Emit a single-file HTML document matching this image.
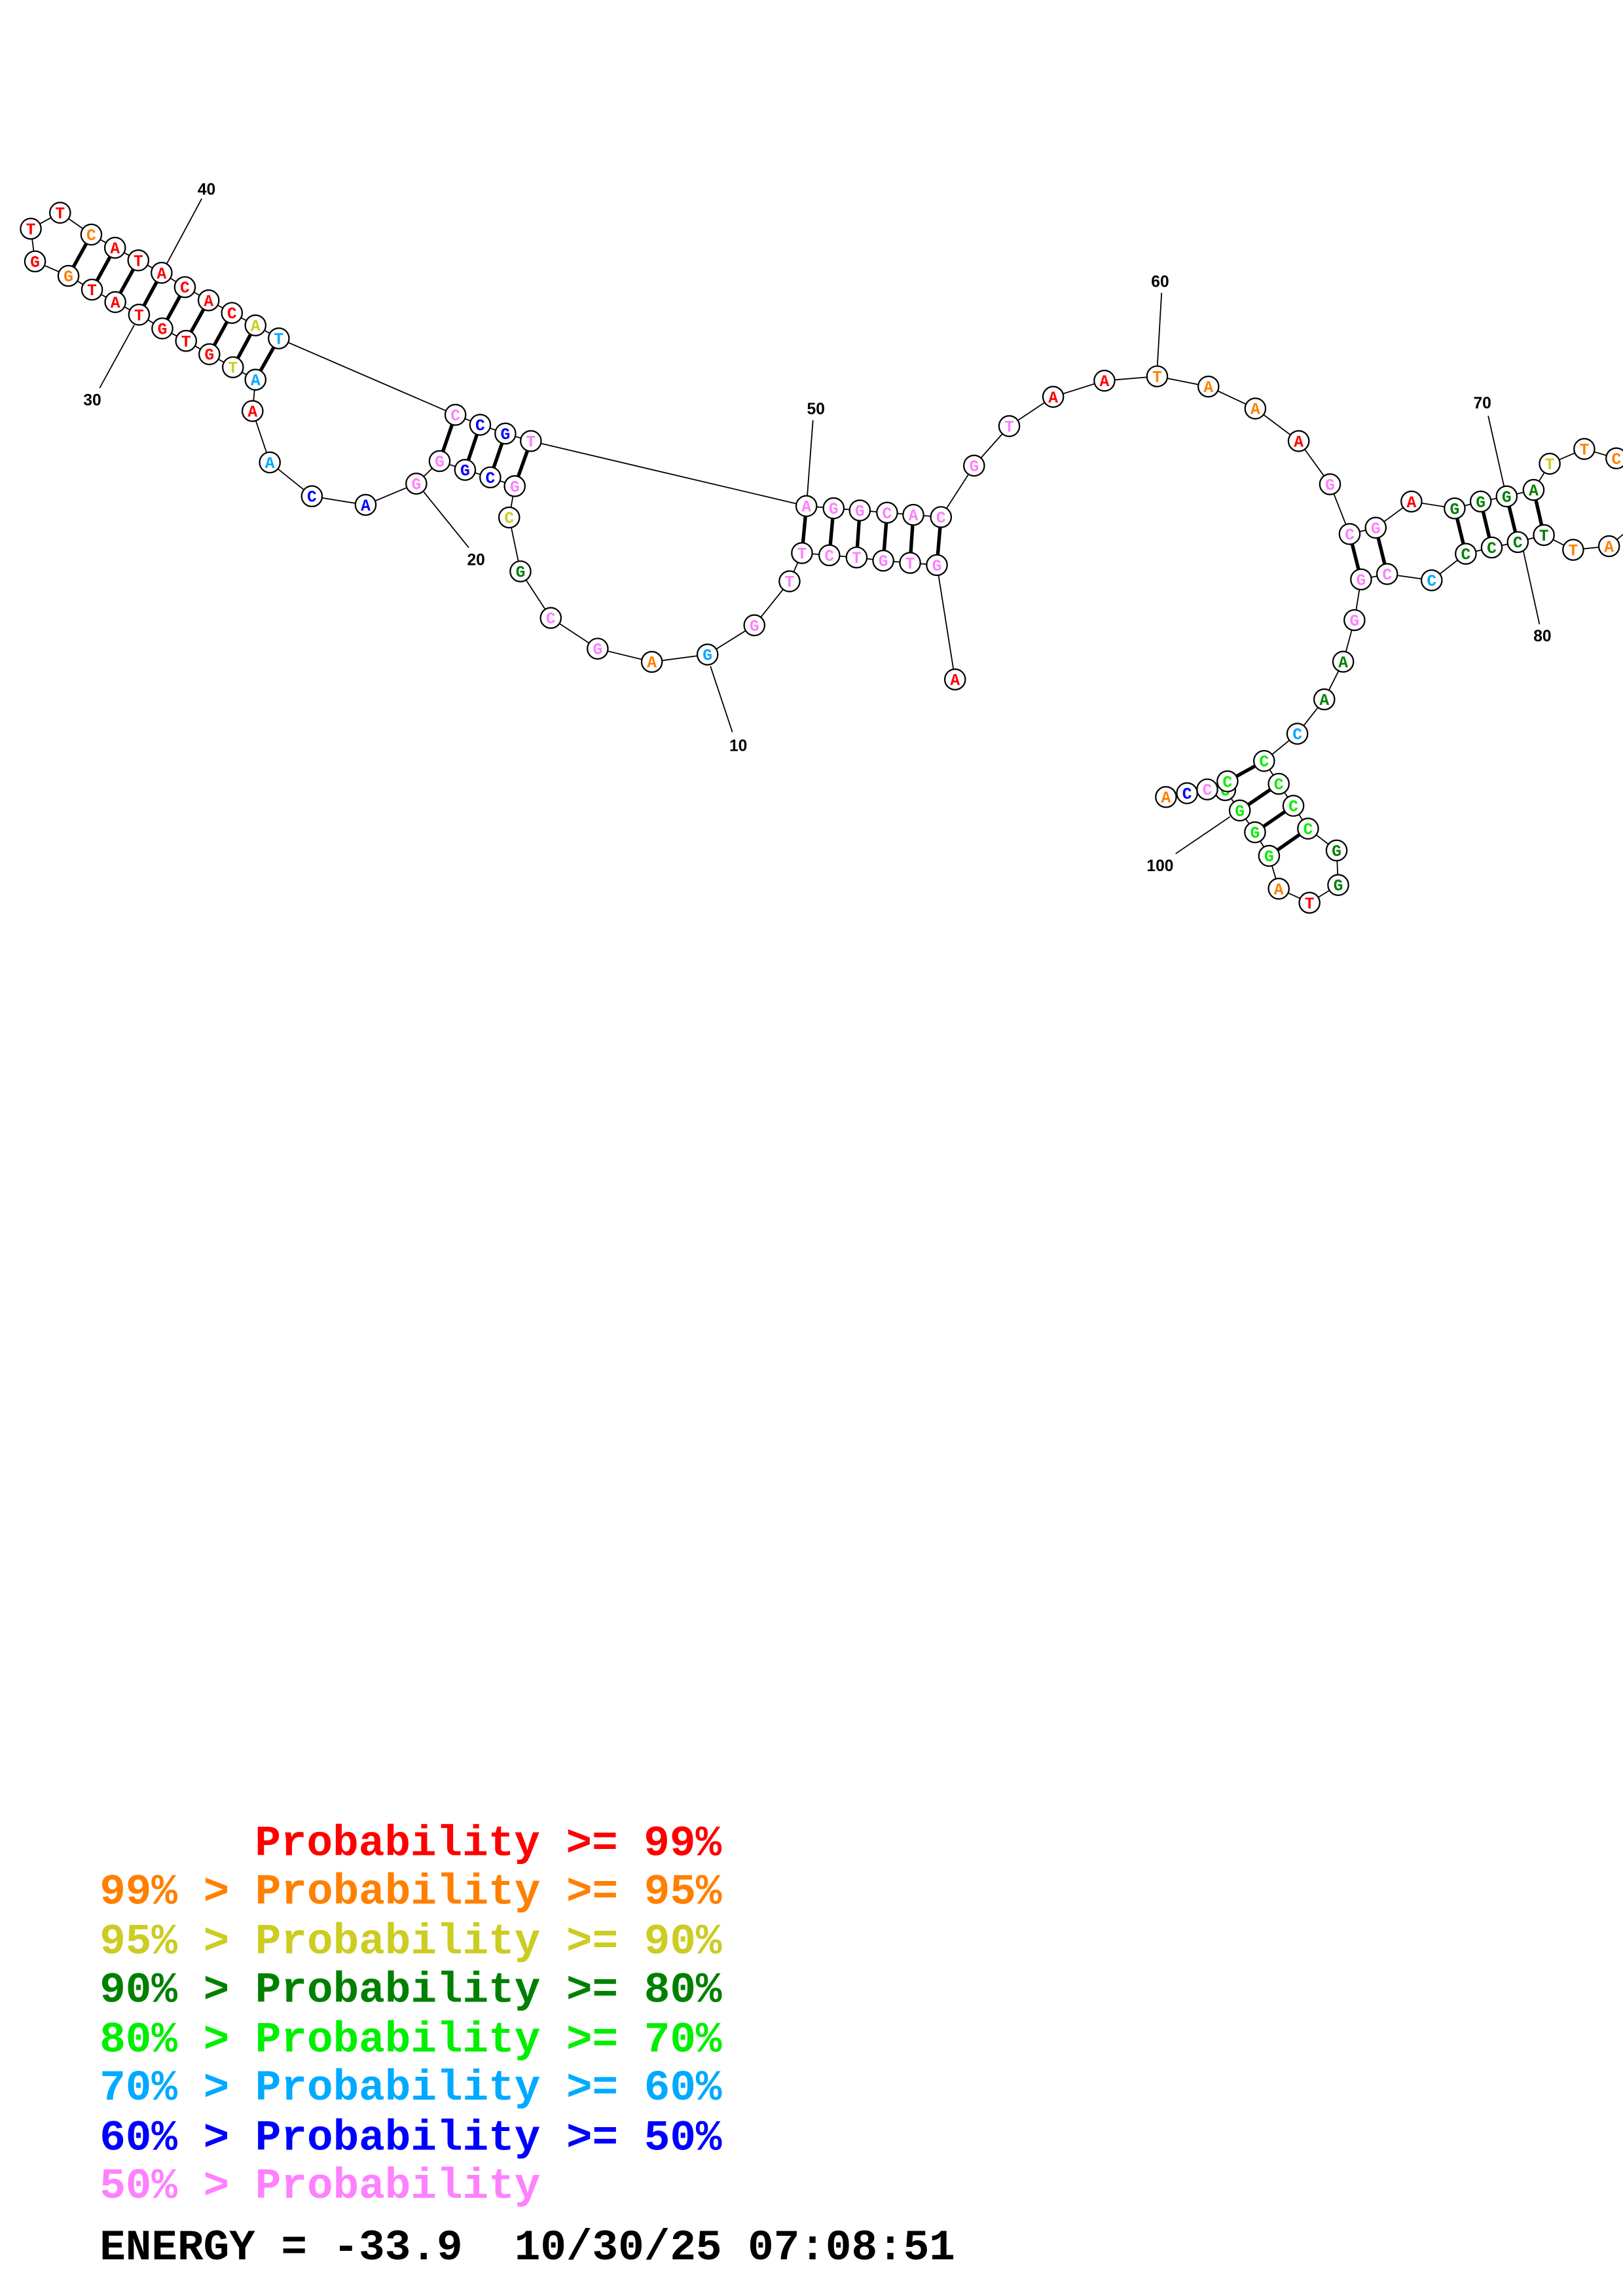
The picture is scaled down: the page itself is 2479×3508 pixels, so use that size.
<!DOCTYPE html>
<html><head><meta charset="utf-8"><style>
html,body{margin:0;padding:0;background:#fff;}
svg{display:block;}
.n text{font-family:"Liberation Mono",monospace;font-weight:bold;font-size:11px;text-anchor:middle;}
.n circle{fill:#fff;stroke:#000;stroke-width:1;}
.lbl{font-family:"Liberation Sans",sans-serif;font-weight:bold;font-size:11px;text-anchor:middle;}
.lg{font-family:"Liberation Mono",monospace;font-weight:bold;font-size:29.5px;white-space:pre;}
</style></head><body>
<svg width="2479" height="3508" viewBox="0 0 1108 1568" xmlns="http://www.w3.org/2000/svg">
<rect width="1108" height="1568" fill="#fff"/>
<!-- label lines -->
<g stroke="#000" stroke-width="0.8" fill="none">
<line x1="137.7" y1="135.7" x2="114" y2="179.8"/>
<line x1="68" y1="265" x2="91.6" y2="222"/>
<line x1="320" y1="374" x2="289.3" y2="336"/>
<line x1="500" y1="500" x2="485" y2="455"/>
<line x1="555" y1="287" x2="551" y2="340"/>
<line x1="793" y1="200" x2="790" y2="252"/>
<line x1="1016" y1="284" x2="1027" y2="333"/>
<line x1="1039" y1="371.7" x2="1051" y2="426.3"/>
<line x1="802.6" y1="583" x2="839.7" y2="557.8"/>
</g>
<!-- backbone -->
<polyline fill="none" stroke="#000" stroke-width="0.8" points="652,464 639.6,385.9 621.3,384.4 603,382.9 584.8,380.7 566.2,379.2 547.5,377.7 539,397 515,427 483,447 445,452 408,443 376,422 355.3,390.2 347.6,353.4 351.4,332 334.7,326 317.5,320.9 300.1,314.9 284.2,330.3 249.6,344.8 212.9,338.9 184.2,315.8 172.4,280.7 174.4,259.3 159,250.8 142.9,241.9 127,232.8 110.8,224.3 94.9,214.9 78.7,206.3 62.8,197.8 46.7,188.4 23.9,178.5 21,156.2 41,145.3 62.3,160.2 78.5,169.2 94.4,177.8 110.3,186.3 126.2,196.1 142.4,205.1 158.3,213.7 174.4,222.2 190.3,231.1 310.9,283.3 327.8,290.1 345,296.1 362.4,301.2 550.5,345.6 569.1,347.1 587,348.6 605.6,350.1 623.5,351.6 642.4,353.1 665,318 689,291 719,271 754,260 790,257 825,264 857,279 886.6,301.2 908,330.7 921.4,364.7 939.2,360.4 963.6,342.5 993.1,347.2 1010.9,342.5 1028.6,339 1047,334.6 1058,316.7 1081.6,306.6 1103.5,313 1125,330 1120,355 1098.5,373 1074,375.5 1054,365.4 1036.2,370.2 1018.4,373.9 1000.7,378.2 977.4,396.3 947,392 929.2,395.7 924.7,423.5 917,451.9 904.1,477.6 885.7,501.1 863,519.7 873,535.3 883,550.3 893,565.9 912.5,580.8 913.6,604.4 894,616.5 873,606.9 866.4,584.5 856.8,568.4 846.4,553.5 836.4,539.6 838,533.6 824.2,539.1 810.4,541.7 796,544.3"/>
<!-- pairs -->
<g stroke="#000" stroke-width="2.4">
<line x1="46.7" y1="188.4" x2="62.3" y2="160.2"/>
<line x1="62.8" y1="197.8" x2="78.5" y2="169.2"/>
<line x1="78.7" y1="206.3" x2="94.4" y2="177.8"/>
<line x1="94.9" y1="214.9" x2="110.3" y2="186.3"/>
<line x1="110.8" y1="224.3" x2="126.2" y2="196.1"/>
<line x1="127" y1="232.8" x2="142.4" y2="205.1"/>
<line x1="142.9" y1="241.9" x2="158.3" y2="213.7"/>
<line x1="159" y1="250.8" x2="174.4" y2="222.2"/>
<line x1="174.4" y1="259.3" x2="190.3" y2="231.1"/>
<line x1="300.1" y1="314.9" x2="310.9" y2="283.3"/>
<line x1="317.5" y1="320.9" x2="327.8" y2="290.1"/>
<line x1="334.7" y1="326" x2="345" y2="296.1"/>
<line x1="351.4" y1="332" x2="362.4" y2="301.2"/>
<line x1="547.5" y1="377.7" x2="550.5" y2="345.6"/>
<line x1="566.2" y1="379.2" x2="569.1" y2="347.1"/>
<line x1="584.8" y1="380.7" x2="587" y2="348.6"/>
<line x1="603" y1="382.9" x2="605.6" y2="350.1"/>
<line x1="621.3" y1="384.4" x2="623.5" y2="351.6"/>
<line x1="639.6" y1="385.9" x2="642.4" y2="353.1"/>
<line x1="921.4" y1="364.7" x2="929.2" y2="395.7"/>
<line x1="939.2" y1="360.4" x2="947" y2="392"/>
<line x1="993.1" y1="347.2" x2="1000.7" y2="378.2"/>
<line x1="1010.9" y1="342.5" x2="1018.4" y2="373.9"/>
<line x1="1028.6" y1="339" x2="1036.2" y2="370.2"/>
<line x1="1047" y1="334.6" x2="1054" y2="365.4"/>
<line x1="863" y1="519.7" x2="838" y2="533.6"/>
<line x1="873" y1="535.3" x2="846.4" y2="553.5"/>
<line x1="883" y1="550.3" x2="856.8" y2="568.4"/>
<line x1="893" y1="565.9" x2="866.4" y2="584.5"/>
</g>
<!-- nodes -->
<g class="n">
<circle cx="652" cy="464" r="7"/><text x="652" y="467.8" fill="#ff0000">A</text>
<circle cx="639.6" cy="385.9" r="7"/><text x="639.6" y="389.7" fill="#ff80ff">G</text>
<circle cx="621.3" cy="384.4" r="7"/><text x="621.3" y="388.2" fill="#ff80ff">T</text>
<circle cx="603" cy="382.9" r="7"/><text x="603" y="386.7" fill="#ff80ff">G</text>
<circle cx="584.8" cy="380.7" r="7"/><text x="584.8" y="384.5" fill="#ff80ff">T</text>
<circle cx="566.2" cy="379.2" r="7"/><text x="566.2" y="383" fill="#ff80ff">C</text>
<circle cx="547.5" cy="377.7" r="7"/><text x="547.5" y="381.5" fill="#ff80ff">T</text>
<circle cx="539" cy="397" r="7"/><text x="539" y="400.8" fill="#ff80ff">T</text>
<circle cx="515" cy="427" r="7"/><text x="515" y="430.8" fill="#ff80ff">G</text>
<circle cx="483" cy="447" r="7"/><text x="483" y="450.8" fill="#00aaff">G</text>
<circle cx="445" cy="452" r="7"/><text x="445" y="455.8" fill="#ff8000">A</text>
<circle cx="408" cy="443" r="7"/><text x="408" y="446.8" fill="#ff80ff">G</text>
<circle cx="376" cy="422" r="7"/><text x="376" y="425.8" fill="#ff80ff">C</text>
<circle cx="355.3" cy="390.2" r="7"/><text x="355.3" y="394" fill="#008000">G</text>
<circle cx="347.6" cy="353.4" r="7"/><text x="347.6" y="357.2" fill="#cccc22">C</text>
<circle cx="351.4" cy="332" r="7"/><text x="351.4" y="335.8" fill="#ff80ff">G</text>
<circle cx="334.7" cy="326" r="7"/><text x="334.7" y="329.8" fill="#0000ff">C</text>
<circle cx="317.5" cy="320.9" r="7"/><text x="317.5" y="324.7" fill="#0000ff">G</text>
<circle cx="300.1" cy="314.9" r="7"/><text x="300.1" y="318.7" fill="#ff80ff">G</text>
<circle cx="284.2" cy="330.3" r="7"/><text x="284.2" y="334.1" fill="#ff80ff">G</text>
<circle cx="249.6" cy="344.8" r="7"/><text x="249.6" y="348.6" fill="#0000ff">A</text>
<circle cx="212.9" cy="338.9" r="7"/><text x="212.9" y="342.7" fill="#0000ff">C</text>
<circle cx="184.2" cy="315.8" r="7"/><text x="184.2" y="319.6" fill="#00aaff">A</text>
<circle cx="172.4" cy="280.7" r="7"/><text x="172.4" y="284.5" fill="#ff0000">A</text>
<circle cx="174.4" cy="259.3" r="7"/><text x="174.4" y="263.1" fill="#00aaff">A</text>
<circle cx="159" cy="250.8" r="7"/><text x="159" y="254.6" fill="#cccc22">T</text>
<circle cx="142.9" cy="241.9" r="7"/><text x="142.9" y="245.7" fill="#ff0000">G</text>
<circle cx="127" cy="232.8" r="7"/><text x="127" y="236.6" fill="#ff0000">T</text>
<circle cx="110.8" cy="224.3" r="7"/><text x="110.8" y="228.1" fill="#ff0000">G</text>
<circle cx="94.9" cy="214.9" r="7"/><text x="94.9" y="218.7" fill="#ff0000">T</text>
<circle cx="78.7" cy="206.3" r="7"/><text x="78.7" y="210.1" fill="#ff0000">A</text>
<circle cx="62.8" cy="197.8" r="7"/><text x="62.8" y="201.6" fill="#ff0000">T</text>
<circle cx="46.7" cy="188.4" r="7"/><text x="46.7" y="192.2" fill="#ff8000">G</text>
<circle cx="23.9" cy="178.5" r="7"/><text x="23.9" y="182.3" fill="#ff0000">G</text>
<circle cx="21" cy="156.2" r="7"/><text x="21" y="160" fill="#ff0000">T</text>
<circle cx="41" cy="145.3" r="7"/><text x="41" y="149.1" fill="#ff0000">T</text>
<circle cx="62.3" cy="160.2" r="7"/><text x="62.3" y="164" fill="#ff8000">C</text>
<circle cx="78.5" cy="169.2" r="7"/><text x="78.5" y="173" fill="#ff0000">A</text>
<circle cx="94.4" cy="177.8" r="7"/><text x="94.4" y="181.6" fill="#ff0000">T</text>
<circle cx="110.3" cy="186.3" r="7"/><text x="110.3" y="190.1" fill="#ff0000">A</text>
<circle cx="126.2" cy="196.1" r="7"/><text x="126.2" y="199.9" fill="#ff0000">C</text>
<circle cx="142.4" cy="205.1" r="7"/><text x="142.4" y="208.9" fill="#ff0000">A</text>
<circle cx="158.3" cy="213.7" r="7"/><text x="158.3" y="217.5" fill="#ff0000">C</text>
<circle cx="174.4" cy="222.2" r="7"/><text x="174.4" y="226" fill="#cccc22">A</text>
<circle cx="190.3" cy="231.1" r="7"/><text x="190.3" y="234.9" fill="#00aaff">T</text>
<circle cx="310.9" cy="283.3" r="7"/><text x="310.9" y="287.1" fill="#ff80ff">C</text>
<circle cx="327.8" cy="290.1" r="7"/><text x="327.8" y="293.9" fill="#0000ff">C</text>
<circle cx="345" cy="296.1" r="7"/><text x="345" y="299.9" fill="#0000ff">G</text>
<circle cx="362.4" cy="301.2" r="7"/><text x="362.4" y="305" fill="#ff80ff">T</text>
<circle cx="550.5" cy="345.6" r="7"/><text x="550.5" y="349.4" fill="#ff80ff">A</text>
<circle cx="569.1" cy="347.1" r="7"/><text x="569.1" y="350.9" fill="#ff80ff">G</text>
<circle cx="587" cy="348.6" r="7"/><text x="587" y="352.4" fill="#ff80ff">G</text>
<circle cx="605.6" cy="350.1" r="7"/><text x="605.6" y="353.9" fill="#ff80ff">C</text>
<circle cx="623.5" cy="351.6" r="7"/><text x="623.5" y="355.4" fill="#ff80ff">A</text>
<circle cx="642.4" cy="353.1" r="7"/><text x="642.4" y="356.9" fill="#ff80ff">C</text>
<circle cx="665" cy="318" r="7"/><text x="665" y="321.8" fill="#ff80ff">G</text>
<circle cx="689" cy="291" r="7"/><text x="689" y="294.8" fill="#ff80ff">T</text>
<circle cx="719" cy="271" r="7"/><text x="719" y="274.8" fill="#ff0000">A</text>
<circle cx="754" cy="260" r="7"/><text x="754" y="263.8" fill="#ff0000">A</text>
<circle cx="790" cy="257" r="7"/><text x="790" y="260.8" fill="#ff8000">T</text>
<circle cx="825" cy="264" r="7"/><text x="825" y="267.8" fill="#ff8000">A</text>
<circle cx="857" cy="279" r="7"/><text x="857" y="282.8" fill="#ff8000">A</text>
<circle cx="886.6" cy="301.2" r="7"/><text x="886.6" y="305" fill="#ff0000">A</text>
<circle cx="908" cy="330.7" r="7"/><text x="908" y="334.5" fill="#ff80ff">G</text>
<circle cx="921.4" cy="364.7" r="7"/><text x="921.4" y="368.5" fill="#ff80ff">C</text>
<circle cx="939.2" cy="360.4" r="7"/><text x="939.2" y="364.2" fill="#ff80ff">G</text>
<circle cx="963.6" cy="342.5" r="7"/><text x="963.6" y="346.3" fill="#ff0000">A</text>
<circle cx="993.1" cy="347.2" r="7"/><text x="993.1" y="351" fill="#008000">G</text>
<circle cx="1010.9" cy="342.5" r="7"/><text x="1010.9" y="346.3" fill="#008000">G</text>
<circle cx="1028.6" cy="339" r="7"/><text x="1028.6" y="342.8" fill="#008000">G</text>
<circle cx="1047" cy="334.6" r="7"/><text x="1047" y="338.4" fill="#008000">A</text>
<circle cx="1058" cy="316.7" r="7"/><text x="1058" y="320.5" fill="#cccc22">T</text>
<circle cx="1081.6" cy="306.6" r="7"/><text x="1081.6" y="310.4" fill="#ff8000">T</text>
<circle cx="1103.5" cy="313" r="7"/><text x="1103.5" y="316.8" fill="#ff8000">C</text>
<circle cx="1098.5" cy="373" r="7"/><text x="1098.5" y="376.8" fill="#ff8000">A</text>
<circle cx="1074" cy="375.5" r="7"/><text x="1074" y="379.3" fill="#ff8000">T</text>
<circle cx="1054" cy="365.4" r="7"/><text x="1054" y="369.2" fill="#008000">T</text>
<circle cx="1036.2" cy="370.2" r="7"/><text x="1036.2" y="374" fill="#008000">C</text>
<circle cx="1018.4" cy="373.9" r="7"/><text x="1018.4" y="377.7" fill="#008000">C</text>
<circle cx="1000.7" cy="378.2" r="7"/><text x="1000.7" y="382" fill="#008000">C</text>
<circle cx="977.4" cy="396.3" r="7"/><text x="977.4" y="400.1" fill="#00aaff">C</text>
<circle cx="947" cy="392" r="7"/><text x="947" y="395.8" fill="#ff80ff">C</text>
<circle cx="929.2" cy="395.7" r="7"/><text x="929.2" y="399.5" fill="#ff80ff">G</text>
<circle cx="924.7" cy="423.5" r="7"/><text x="924.7" y="427.3" fill="#ff80ff">G</text>
<circle cx="917" cy="451.9" r="7"/><text x="917" y="455.7" fill="#008000">A</text>
<circle cx="904.1" cy="477.6" r="7"/><text x="904.1" y="481.4" fill="#008000">A</text>
<circle cx="885.7" cy="501.1" r="7"/><text x="885.7" y="504.9" fill="#00aaff">C</text>
<circle cx="863" cy="519.7" r="7"/><text x="863" y="523.5" fill="#00ee00">C</text>
<circle cx="873" cy="535.3" r="7"/><text x="873" y="539.1" fill="#00ee00">C</text>
<circle cx="883" cy="550.3" r="7"/><text x="883" y="554.1" fill="#00ee00">C</text>
<circle cx="893" cy="565.9" r="7"/><text x="893" y="569.7" fill="#00ee00">C</text>
<circle cx="912.5" cy="580.8" r="7"/><text x="912.5" y="584.6" fill="#008000">G</text>
<circle cx="913.6" cy="604.4" r="7"/><text x="913.6" y="608.2" fill="#008000">G</text>
<circle cx="894" cy="616.5" r="7"/><text x="894" y="620.3" fill="#ff0000">T</text>
<circle cx="873" cy="606.9" r="7"/><text x="873" y="610.7" fill="#ff8000">A</text>
<circle cx="866.4" cy="584.5" r="7"/><text x="866.4" y="588.3" fill="#00ee00">G</text>
<circle cx="856.8" cy="568.4" r="7"/><text x="856.8" y="572.2" fill="#00ee00">G</text>
<circle cx="846.4" cy="553.5" r="7"/><text x="846.4" y="557.3" fill="#00ee00">G</text>
<circle cx="836.4" cy="539.6" r="7"/><text x="836.4" y="543.4" fill="#00ee00">G</text>
<circle cx="838" cy="533.6" r="7"/><text x="838" y="537.4" fill="#00ee00">C</text>
<circle cx="824.2" cy="539.1" r="7"/><text x="824.2" y="542.9" fill="#ff80ff">C</text>
<circle cx="810.4" cy="541.7" r="7"/><text x="810.4" y="545.5" fill="#0000ff">C</text>
<circle cx="796" cy="544.3" r="7"/><text x="796" y="548.1" fill="#ff8000">A</text>
</g>
<!-- number labels -->
<text class="lbl" x="141" y="133">40</text>
<text class="lbl" x="63" y="277">30</text>
<text class="lbl" x="325" y="386">20</text>
<text class="lbl" x="504" y="513">10</text>
<text class="lbl" x="557" y="283">50</text>
<text class="lbl" x="792" y="196">60</text>
<text class="lbl" x="1012" y="279">70</text>
<text class="lbl" x="1053" y="438">80</text>
<text class="lbl" x="792" y="595">100</text>
<!-- legend -->
<text class="lg" x="174" y="1267" fill="#ff0000">Probability &gt;= 99%</text>
<text class="lg" x="68" y="1300" fill="#ff8000">99% &gt; Probability &gt;= 95%</text>
<text class="lg" x="68" y="1334" fill="#cccc22">95% &gt; Probability &gt;= 90%</text>
<text class="lg" x="68" y="1367" fill="#008000">90% &gt; Probability &gt;= 80%</text>
<text class="lg" x="68" y="1401" fill="#00ee00">80% &gt; Probability &gt;= 70%</text>
<text class="lg" x="68" y="1434" fill="#00aaff">70% &gt; Probability &gt;= 60%</text>
<text class="lg" x="68" y="1468" fill="#0000ff">60% &gt; Probability &gt;= 50%</text>
<text class="lg" x="68" y="1501" fill="#ff80ff">50% &gt; Probability</text>
<text class="lg" x="68" y="1543" fill="#000">ENERGY = -33.9  10/30/25 07:08:51</text>
</svg>
</body></html>
